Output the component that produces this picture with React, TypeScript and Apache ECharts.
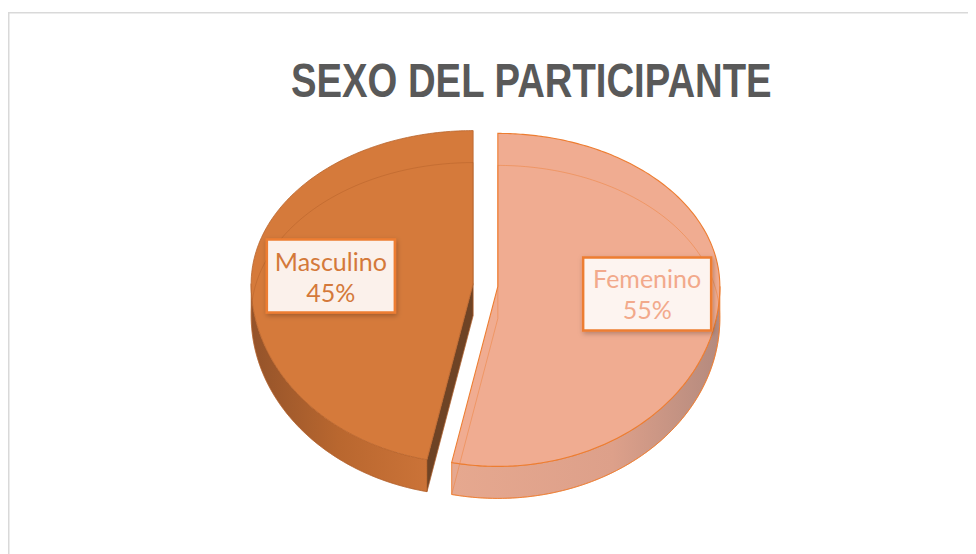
import React, { useEffect, useRef } from "react";
import * as echarts from "echarts";

const categories = ["Femenino", "Masculino"];
const values = [55, 45];
const topColors = ["#F0AC91", "#D57A3B"];
const titleText = "SEXO DEL PARTICIPANTE";

export default function App() {
  const ref = useRef<HTMLDivElement>(null);
  useEffect(() => {
    const chart = echarts.init(ref.current!, null, { renderer: "svg" });
    const total = values.reduce((a, b) => a + b, 0);
    const starts: number[] = [];
    let acc = 0;
    values.forEach((v) => {
      starts.push((acc / total) * 360);
      acc += v;
    });
    const CX = 477.5, CY = 277, RX = 222, RYB = 153, RYF = 180, H = 32, EXPL = 12.5;
    const PERSP = -10.2; // pseudo-perspective angle warp (degrees)
    const LABEL_DX = 3.5;
    const rad = (d: number) => (d * Math.PI) / 180;
    const warp = (a: number) => a + PERSP * Math.sin(rad(2 * a));
    const pt = (a: number, ox: number, oy: number, dz: number) => {
      const w = warp(a);
      const c = Math.cos(rad(w));
      const s = Math.sin(rad(w));
      return [CX + ox + RX * s, CY + oy - (c > 0 ? RYB : RYF) * c + dz];
    };
    const arc = (a0: number, a1: number, ox: number, oy: number, dz: number) => {
      const pts: number[][] = [];
      const n = Math.max(2, Math.ceil(Math.abs(a1 - a0)));
      for (let i = 0; i <= n; i++) pts.push(pt(a0 + ((a1 - a0) * i) / n, ox, oy, dz));
      return pts;
    };
    const styles = [
      {
        wall: new echarts.graphic.LinearGradient(0, 0, 1, 0, [
          { offset: 0, color: "#E6A88F" },
          { offset: 0.6, color: "#DDA08A" },
          { offset: 1, color: "#B48A7E" },
        ]),
        edge: "#ED7D31",
        edgeW: 1.1,
        face: "#7A4A28",
        hidden: "rgba(237,125,49,0.45)",
        box: "#FDF4F0",
        text: "#F2A98B",
      },
      {
        wall: new echarts.graphic.LinearGradient(0, 0, 1, 0, [
          { offset: 0, color: "#94532A" },
          { offset: 0.5, color: "#B9672F" },
          { offset: 1, color: "#CB7338" },
        ]),
        edge: "#B9642C",
        edgeW: 0.8,
        face: "#6E4325",
        hidden: "rgba(165,85,35,0.35)",
        box: "#FBF1EB",
        text: "#D4793A",
      },
    ];

    const renderItem = (params: any, api: any) => {
      const i = params.dataIndex;
      const v = api.value(0);
      const a0 = starts[i];
      const a1 = a0 + (v / total) * 360;
      const b = (a0 + a1) / 2;
      const ox = EXPL * Math.sin(rad(b));
      const oy = -EXPL * Math.cos(rad(b)) * 0.72;
      const vx = CX + ox, vy = CY + oy;
      const st = styles[i];
      const children: any[] = [];
      const w0 = Math.max(a0, 90), w1 = Math.min(a1, 270);
      if (w1 > w0) {
        const pts = arc(w0, w1, ox, oy, 0).concat(arc(w1, w0, ox, oy, H));
        children.push({
          type: "polygon",
          shape: { points: pts },
          style: { fill: st.wall, stroke: st.edge, lineWidth: st.edgeW * 0.8 },
        });
      }
      const faces: number[] = [];
      if (Math.sin(rad(a0)) < -1e-6) faces.push(a0);
      if (Math.sin(rad(a1)) > 1e-6) faces.push(a1);
      faces.forEach((a) => {
        const r0 = pt(a, ox, oy, 0);
        const r1 = pt(a, ox, oy, H);
        children.push({
          type: "polygon",
          shape: { points: [[vx, vy], r0, r1, [vx, vy + H]] },
          style: { fill: st.face, stroke: st.edge, lineWidth: 0.5 },
        });
      });
      children.push({
        type: "polygon",
        shape: { points: [[vx, vy]].concat(arc(a0, a1, ox, oy, 0)) },
        style: { fill: topColors[i], stroke: st.edge, lineWidth: st.edgeW },
      });
      children.push({
        type: "polyline",
        shape: { points: [[vx, vy + H]].concat(arc(a0, a1, ox, oy, H)).concat([[vx, vy + H]]) },
        style: { fill: null, stroke: st.hidden, lineWidth: 1 },
      });
      const lx = vx + 0.665 * RX * Math.sin(rad(b)) + LABEL_DX;
      const ly = vy - Math.cos(rad(b)) * 48;
      const bw = 128, bh = 73;
      children.push({
        type: "rect",
        shape: { x: lx - bw / 2, y: ly - bh / 2, width: bw, height: bh },
        style: {
          fill: st.box,
          stroke: "#ED7D31",
          lineWidth: 2.5,
          shadowBlur: 5,
          shadowColor: "rgba(0,0,0,0.25)",
          shadowOffsetX: 1,
          shadowOffsetY: 2,
        },
      });
      children.push({
        type: "text",
        x: lx,
        y: ly,
        style: {
          text: categories[i] + "\n" + Math.round((v / total) * 100) + "%",
          fill: st.text,
          font: '25px "Lato", "Liberation Sans", sans-serif',
          lineHeight: 31,
          align: "center",
          verticalAlign: "middle",
        },
      });
      return { type: "group", children };
    };

    chart.setOption({
      animation: false,
      graphic: [
        {
          type: "rect",
          silent: true,
          shape: { x: 0.75, y: 4.75, width: 1400, height: 1400 },
          style: { fill: "none", stroke: "#D9D9D9", lineWidth: 1.5 },
        },
        {
          type: "text",
          silent: true,
          x: 283,
          y: 48,
          scaleX: 0.806,
          style: {
            text: titleText,
            font: 'bold 47.5px "Liberation Sans", Arial, sans-serif',
            fill: "#595959",
            align: "left",
            verticalAlign: "top",
          },
        },
      ],
      series: [
        {
          type: "custom",
          coordinateSystem: "none",
          renderItem,
          data: values.map((v, i) => ({ name: categories[i], value: [v] })),
        },
      ],
    });
    return () => chart.dispose();
  }, []);
  return <div ref={ref} style={{ width: 968, height: 546 }} />;
}
